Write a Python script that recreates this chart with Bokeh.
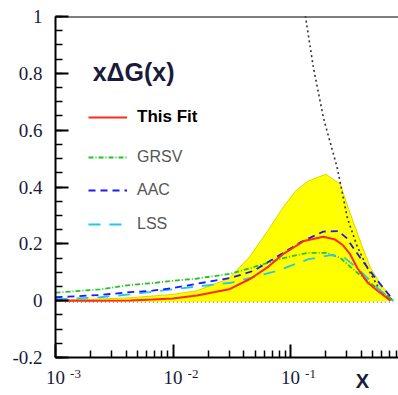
from bokeh.plotting import figure
from bokeh.models import FixedTicker, Label, Legend, LegendItem, Span, LogAxis
from bokeh.embed import file_html
from bokeh.resources import INLINE

# Uncertainty band of the fitted gluon polarisation x*dG(x)
band_x = [0.001, 0.002, 0.0043, 0.01, 0.016, 0.03, 0.045, 0.065, 0.087, 0.11, 0.14, 0.2, 0.265, 0.32, 0.4, 0.48, 0.58, 0.75]
band_hi = [0.002, 0.005, 0.01, 0.022, 0.035, 0.078, 0.155, 0.25, 0.33, 0.385, 0.42, 0.445, 0.41, 0.31, 0.2, 0.115, 0.06, 0.0]
band_lo = [-0.002, -0.003, -0.004, -0.005, -0.005, -0.005, -0.005, -0.005, -0.005, -0.005, -0.005, -0.005, -0.005, -0.005, -0.005, -0.004, -0.003, 0.0]

# Central curve of this fit
fit_x = [0.001, 0.002, 0.0043, 0.0067, 0.01, 0.016, 0.03, 0.046, 0.065, 0.087, 0.13, 0.19, 0.24, 0.28, 0.32, 0.37, 0.45, 0.55, 0.71]
fit_y = [0.0, 0.0, 0.001, 0.004, 0.008, 0.018, 0.04, 0.078, 0.12, 0.165, 0.21, 0.225, 0.215, 0.195, 0.165, 0.115, 0.065, 0.035, 0.0]

# Other parametrisations
grsv_x = [0.001, 0.0024, 0.0043, 0.0067, 0.0101, 0.0162, 0.031, 0.046, 0.087, 0.14, 0.205, 0.266, 0.324, 0.42, 0.58, 0.75]
grsv_y = [0.028, 0.04, 0.055, 0.062, 0.07, 0.078, 0.095, 0.115, 0.15, 0.168, 0.168, 0.15, 0.118, 0.08, 0.035, 0.0]

aac_x = [0.001, 0.0024, 0.0043, 0.0067, 0.0101, 0.0162, 0.031, 0.0485, 0.077, 0.121, 0.19, 0.255, 0.301, 0.35, 0.41, 0.55, 0.74]
aac_y = [0.012, 0.02, 0.03, 0.035, 0.045, 0.06, 0.08, 0.105, 0.155, 0.205, 0.243, 0.245, 0.22, 0.18, 0.14, 0.07, 0.005]

lss_x = [0.001, 0.0024, 0.0043, 0.0101, 0.0162, 0.031, 0.0457, 0.077, 0.14, 0.22, 0.28, 0.37, 0.58, 0.75]
lss_y = [0.005, 0.012, 0.022, 0.04, 0.05, 0.063, 0.08, 0.105, 0.145, 0.16, 0.155, 0.115, 0.035, 0.0]

# Positivity bound
bound_x = [0.13, 0.134, 0.157, 0.191, 0.25, 0.305, 0.37, 0.45, 0.58, 0.75]
bound_y = [1.02, 1.0, 0.818, 0.642, 0.467, 0.29, 0.19, 0.116, 0.035, 0.0]

# Zero reference under the band
zero_x = [0.0012, 0.75]
zero_y = [-0.006, -0.006]

# Axis ticks and labels
x_ticks = [1e-3, 1e-2, 1e-1]
x_tick_base = ["10", "10", "10"]
x_tick_exponents = ["-3", "-2", "-1"]
x_axis_title = "X"
x_axis_title_pos = 0.41
y_ticks = [-0.2, 0.0, 0.2, 0.4, 0.6, 0.8, 1.0]
y_tick_labels = ["-0.2", "0", "0.2", "0.4", "0.6", "0.8", "1"]

INK = "#1a1a3a"
PX_PER_DECADE = 117.5

p = figure(width=398, height=395, x_axis_type="log",
           x_range=(1e-3, 0.83), y_range=(-0.2, 1.0),
           output_backend="svg", toolbar_location=None,
           min_border_left=55, min_border_right=0,
           min_border_top=16, min_border_bottom=38)
p.outline_line_color = None
p.grid.visible = False
p.background_fill_color = "white"

p.varea(x=band_x, y1=band_lo, y2=band_hi, fill_color="#ffff00")
p.line(band_x, band_hi, line_color="#d6d600", line_width=1)
p.line(zero_x, zero_y, line_color="#999999", line_width=1.5, line_dash="1 3")
p.line(bound_x, bound_y, line_color="#333333", line_width=1.6, line_dash="2 3")

r_grsv = p.line(grsv_x, grsv_y, line_color="#22c422", line_width=1.8, line_dash="5 2 1 2")
r_lss = p.line(lss_x, lss_y, line_color="#22c8f0", line_width=1.8, line_dash="12 9")
r_aac = p.line(aac_x, aac_y, line_color="#1a1aff", line_width=1.8, line_dash="7 5")
r_fit = p.line(fit_x, fit_y, line_color="#ff2a1a", line_width=2)

# Main axes: ticks point into the frame
minor_x = [k * 10.0 ** e for e in (-3, -2, -1) for k in range(2, 10)]
p.xaxis.ticker = FixedTicker(ticks=x_ticks, minor_ticks=minor_x)
p.xaxis.major_label_text_font_size = "1px"
p.xaxis.major_label_text_alpha = 0
p.xaxis.major_label_standoff = 0

p.yaxis.ticker = FixedTicker(ticks=y_ticks, minor_ticks=[round(-0.2 + 0.05 * i, 2) for i in range(25)])
p.yaxis.major_label_overrides = dict(zip(y_ticks, y_tick_labels))
p.yaxis.major_label_standoff = 13
p.yaxis.major_label_text_font = "Liberation Serif"
p.yaxis.major_label_text_font_size = "19px"
p.yaxis.major_label_text_color = INK

for ax in (p.xaxis[0], p.yaxis[0]):
    ax.axis_line_width = 2
    ax.axis_line_color = "black"
    ax.major_tick_in = 13
    ax.major_tick_out = 0
    ax.minor_tick_in = 7
    ax.minor_tick_out = 0
    ax.major_tick_line_width = 2
    ax.minor_tick_line_width = 1.5


def label_row(ticks, labels, standoff, font, size, style="normal"):
    """A bare axis that only prints labels, used to build the decade labels."""
    return LogAxis(ticker=FixedTicker(ticks=ticks, minor_ticks=[]),
                   major_label_overrides=dict(zip(ticks, labels)),
                   axis_line_color=None, major_tick_line_color=None,
                   minor_tick_line_color=None,
                   major_tick_in=0, major_tick_out=0, minor_tick_in=0, minor_tick_out=0,
                   major_label_standoff=standoff, major_label_text_font=font,
                   major_label_text_font_size=size, major_label_text_font_style=style,
                   major_label_text_color=INK)


# Decade labels: "10" centred on each tick, raised exponent to its right
exp_ticks = [t * 10 ** (20 / PX_PER_DECADE) for t in x_ticks]
p.add_layout(label_row(exp_ticks, x_tick_exponents, 12, "Liberation Serif", "13px"), "below")
p.add_layout(label_row(x_ticks, x_tick_base, -10, "Liberation Serif", "19px"), "below")
p.add_layout(label_row([x_axis_title_pos], [x_axis_title], -17, "Liberation Sans", "20px", "bold"), "below")

p.add_layout(Span(location=1.0, dimension="width", line_color="black", line_width=2))

p.add_layout(Label(x=0.00207, y=0.803, text="xΔG(x)", text_align="left",
                   text_baseline="alphabetic", text_font="Liberation Sans",
                   text_font_style="bold", text_font_size="25px", text_color=INK))

# One legend per entry so each label can carry its own style
entries = [("This Fit", r_fit, 230, "black", "bold", "17px"),
           ("GRSV", r_grsv, 190, "#555555", "normal", "16px"),
           ("AAC", r_aac, 157, "#555555", "normal", "16px"),
           ("LSS", r_lss, 123, "#555555", "normal", "16px")]
for name, rend, yoff, col, style, size in entries:
    leg = Legend(items=[LegendItem(label=name, renderers=[rend])], location=(33, yoff),
                 padding=0, margin=0, glyph_width=39, glyph_height=20, label_height=20,
                 label_standoff=10, border_line_color=None, background_fill_alpha=0,
                 label_text_font="Liberation Sans", label_text_font_size=size,
                 label_text_font_style=style, label_text_color=col)
    p.add_layout(leg)

open("out.html", "w").write(file_html(p, INLINE))
